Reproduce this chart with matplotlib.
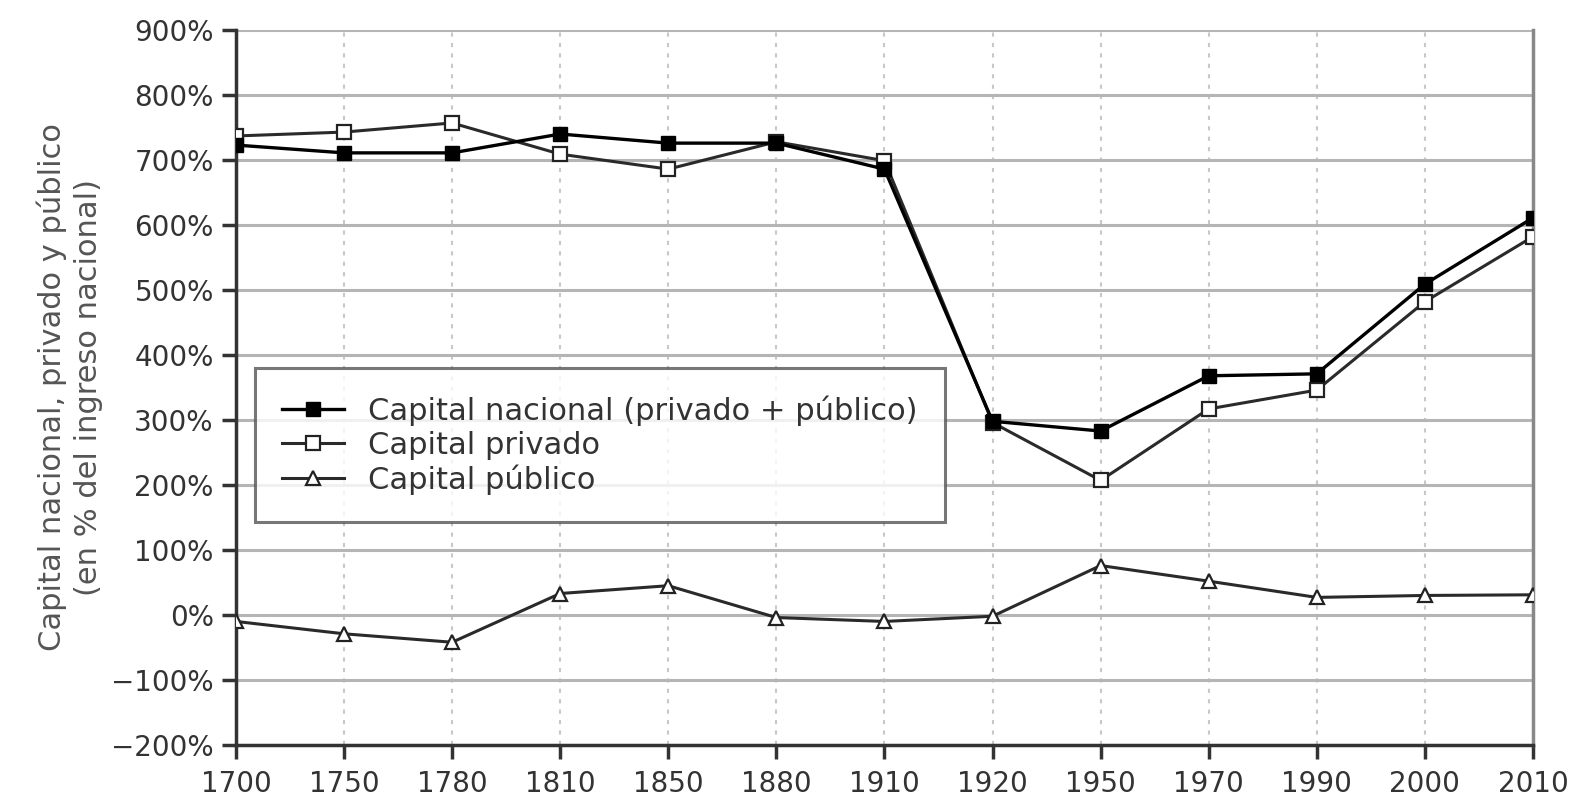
import numpy as np
import matplotlib
matplotlib.use("Agg")
import matplotlib.pyplot as plt
from matplotlib.ticker import FuncFormatter

plt.rcParams['font.family'] = ['DejaVu Sans']

years = ['1700', '1750', '1780', '1810', '1850', '1880', '1910',
         '1920', '1950', '1970', '1990', '2000', '2010']
capital_nacional = [723, 711, 711, 740, 726, 726, 686, 298, 283, 368, 371, 509, 611]
capital_privado = [737, 743, 757, 709, 686, 728, 699, 296, 207, 317, 346, 482, 582]
capital_publico = [-10, -29, -42, 33, 45, -4, -10, -2, 76, 52, 27, 30, 31]

labels = ['Capital nacional (privado + público)', 'Capital privado', 'Capital público']

fig = plt.figure(figsize=(15.69, 8.01), dpi=100)
ax = fig.add_axes([0.1504, 0.070, 0.8266, 0.8925])

x = np.arange(len(years))
ax.plot(x, capital_nacional, color='black', lw=2.4, marker='s', ms=10,
        mfc='black', mec='black', label=labels[0], zorder=4)
ax.plot(x, capital_privado, color='#2a2a2a', lw=2.2, marker='s', ms=10,
        mfc='white', mec='#222222', mew=1.6, label=labels[1], zorder=3)
ax.plot(x, capital_publico, color='#2a2a2a', lw=2.2, marker='^', ms=10,
        mfc='white', mec='#222222', mew=1.6, label=labels[2], zorder=3)

ax.set_xlim(0, len(years) - 1)
ax.set_ylim(-200, 900)
ax.set_xticks(x)
ax.set_xticklabels(years)
ax.set_yticks(np.arange(-200, 901, 100))
ax.yaxis.set_major_formatter(FuncFormatter(lambda v, p: '%d%%' % v if v >= 0 else '\u2212%d%%' % -v))

ax.yaxis.grid(True, color='#b5b5b5', lw=2.2, ls='-')
ax.xaxis.grid(True, color='#c8c8c8', lw=1.5, ls=(0, (2, 3)))
ax.set_axisbelow(True)

for s in ['left', 'bottom']:
    ax.spines[s].set_color('#333333')
    ax.spines[s].set_linewidth(2.5)
ax.spines['top'].set_visible(False)
ax.spines['right'].set_color('#888888')
ax.spines['right'].set_linewidth(2.5)

ax.tick_params(axis='both', direction='out', length=10, width=2.5, color='#333333',
               labelsize=20, labelcolor='#333333')
ax.tick_params(axis='y', pad=6)
ax.tick_params(axis='x', pad=8)

ax.set_ylabel('Capital nacional, privado y público\n(en % del ingreso nacional)',
              fontsize=22, color='#555555', labelpad=6, linespacing=1.3)

leg = ax.legend(loc='upper left', bbox_to_anchor=(0.0146, 0.527), fontsize=22,
                frameon=True, fancybox=False, handlelength=2.0, borderpad=0.9,
                labelspacing=0.15, handletextpad=0.8, borderaxespad=0)
leg.get_frame().set_edgecolor('#555555')
leg.get_frame().set_linewidth(2.2)
for t in leg.get_texts():
    t.set_color('#333333')
leg.set_zorder(5)

fig.savefig('out.png', dpi=100)
